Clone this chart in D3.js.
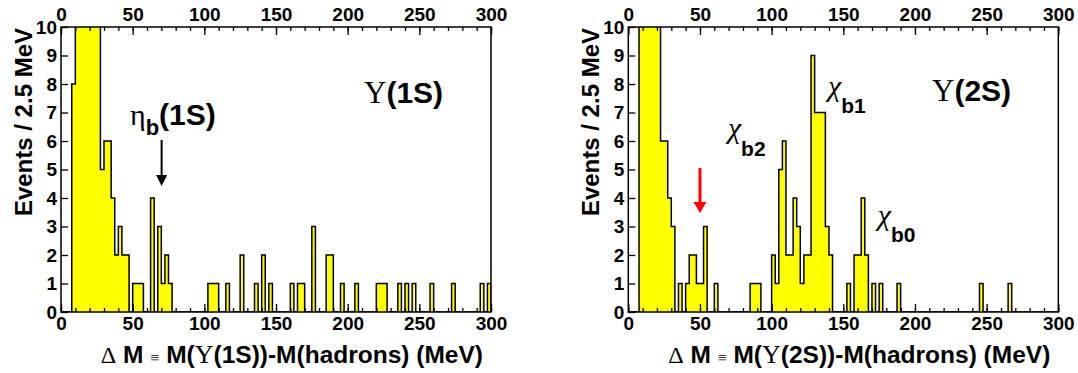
<!DOCTYPE html>
<html>
<head>
<meta charset="utf-8">
<script src="https://cdn.jsdelivr.net/npm/d3@7"></script>
<style>
  html, body { margin: 0; padding: 0; background: #fff; }
  svg { display: block; }
  .sans { font-family: "Liberation Sans", Arial, Helvetica, sans-serif; font-weight: bold; }
  .serif { font-family: "Liberation Serif", "Times New Roman", serif; font-weight: normal; }
</style>
</head>
<body>
<div id="chart"></div>
<script>
// Data: events per 2.5 MeV bin, 0..300 MeV (120 bins)
// bins above 10 are off the axis (clipped), their heights are guesses
const binWidth = 2.5;
const xTicksMajor = [0, 50, 100, 150, 200, 250, 300];
const yTicks = [0, 1, 2, 3, 4, 5, 6, 7, 8, 9, 10];

const counts1S = [
  0, 0, 0, 8, 14, 18, 20, 19, 16, 13, 11, 5, 6, 6, 4, 2, 3, 2, 2, 0,
  1, 1, 1, 0, 0, 4, 0, 3, 1, 2, 1, 0, 0, 0, 0, 0, 0, 0, 0, 0,
  0, 1, 1, 1, 0, 0, 1, 0, 0, 0, 2, 0, 0, 0, 1, 0, 2, 0, 1, 0,
  0, 0, 0, 0, 1, 0, 1, 1, 0, 0, 3, 0, 0, 0, 2, 2, 0, 0, 1, 0,
  0, 0, 1, 0, 0, 0, 0, 0, 1, 1, 1, 0, 0, 0, 1, 0, 1, 0, 1, 0,
  0, 0, 0, 1, 0, 0, 0, 0, 0, 1, 0, 0, 0, 0, 0, 0, 0, 1, 0, 1
];

const counts2S = [
  0, 0, 0, 12, 16, 18, 17, 14, 11, 6, 6, 4, 3, 0, 1, 0, 1, 2, 2, 1,
  1, 3, 0, 0, 1, 0, 0, 0, 0, 0, 0, 0, 0, 0, 1, 1, 1, 0, 0, 0,
  2, 1, 5, 6, 2, 2, 4, 3, 1, 2, 2, 9, 7, 7, 7, 3, 2, 0, 0, 0,
  0, 1, 0, 2, 2, 4, 2, 0, 1, 0, 1, 0, 0, 0, 0, 1, 0, 0, 0, 0,
  0, 0, 0, 0, 0, 0, 0, 0, 0, 0, 0, 0, 0, 0, 0, 0, 0, 0, 1, 0,
  0, 0, 0, 0, 0, 0, 1, 0, 0, 0, 0, 0, 0, 0, 0, 0, 0, 0, 0, 0
];

// Dimensions
const dimensions = { width: 1078, height: 373, top: 27, bottom: 312, plotWidth: 430 };

const svg = d3.select("#chart")
  .append("svg")
  .attr("width", dimensions.width)
  .attr("height", dimensions.height);

function drawPanel(cfg) {
  const xScale = d3.scaleLinear().domain([0, 300]).range([cfg.left, cfg.left + dimensions.plotWidth]);
  const yScale = d3.scaleLinear().domain([0, 10]).range([dimensions.bottom, dimensions.top]);

  const g = svg.append("g");

  const clipId = "clip-" + cfg.id;
  g.append("clipPath").attr("id", clipId)
    .append("rect")
    .attr("x", xScale(0)).attr("y", yScale(10))
    .attr("width", xScale(300) - xScale(0))
    .attr("height", yScale(0) - yScale(10));

  // histogram points: left edge of each bin, plus closing point
  const pts = cfg.counts.map((c, i) => [i * binWidth, c]);
  pts.push([cfg.counts.length * binWidth, 0]);

  const area = d3.area()
    .x((d) => xScale(d[0]))
    .y0(yScale(0))
    .y1((d) => yScale(d[1]))
    .curve(d3.curveStepAfter);
  const line = d3.line()
    .x((d) => xScale(d[0]))
    .y((d) => yScale(d[1]))
    .curve(d3.curveStepAfter);

  const hist = g.append("g").attr("clip-path", `url(#${clipId})`);
  hist.append("path").datum(pts).attr("d", area).attr("fill", "#ffff00");
  hist.append("path").datum(pts).attr("d", line)
    .attr("fill", "none").attr("stroke", "#000").attr("stroke-width", 1.5);

  // frame
  g.append("rect")
    .attr("x", xScale(0)).attr("y", yScale(10))
    .attr("width", xScale(300) - xScale(0))
    .attr("height", yScale(0) - yScale(10))
    .attr("fill", "none").attr("stroke", "#000").attr("stroke-width", 1.5);

  const minor = d3.range(0, 301, 10);
  const styleAxis = (sel) => {
    sel.select(".domain").remove();
    sel.selectAll("line").attr("stroke", "#000").attr("stroke-width", 1.3);
    sel.selectAll("text").attr("class", "sans").attr("font-size", 19).attr("fill", "#000");
  };

  // bottom axis
  g.append("g").attr("transform", `translate(0, ${yScale(0)})`)
    .call(d3.axisBottom(xScale).tickValues(minor).tickSizeInner(-4).tickSizeOuter(0).tickFormat(""))
    .call(styleAxis);
  g.append("g").attr("transform", `translate(0, ${yScale(0)})`)
    .call(d3.axisBottom(xScale).tickValues(xTicksMajor).tickSizeInner(-8).tickSizeOuter(0).tickPadding(5).tickFormat(d3.format("d")))
    .call(styleAxis);

  // top axis
  g.append("g").attr("transform", `translate(0, ${yScale(10)})`)
    .call(d3.axisTop(xScale).tickValues(minor).tickSizeInner(-4).tickSizeOuter(0).tickFormat(""))
    .call(styleAxis);
  g.append("g").attr("transform", `translate(0, ${yScale(10)})`)
    .call(d3.axisTop(xScale).tickValues(xTicksMajor).tickSizeInner(-8).tickSizeOuter(0).tickPadding(6).tickFormat(d3.format("d")))
    .call(styleAxis);

  // left axis
  g.append("g").attr("transform", `translate(${xScale(0)}, 0)`)
    .call(d3.axisLeft(yScale).tickValues(yTicks).tickSizeInner(-7).tickSizeOuter(0).tickPadding(4).tickFormat(d3.format("d")))
    .call(styleAxis);

  // y title
  g.append("text")
    .attr("class", "sans")
    .attr("font-size", 24)
    .attr("text-anchor", "end")
    .attr("transform", `translate(${xScale(0) - 29}, ${yScale(10) + 1}) rotate(-90)`)
    .text("Events / 2.5 MeV");

  // x title
  const xt = g.append("text")
    .attr("class", "sans")
    .attr("font-size", 24.5)
    .attr("text-anchor", "end")
    .attr("x", xScale(300) - 8)
    .attr("y", 363);
  xt.append("tspan").attr("class", "serif").attr("font-size", 24).text("\u0394");
  xt.append("tspan").text(" M ");
  xt.append("tspan").attr("class", "serif").attr("font-size", 16).text("\u2261");
  xt.append("tspan").text(" M(");
  xt.append("tspan").attr("class", "serif").attr("font-size", 26).text("\u03a5");
  xt.append("tspan").text(cfg.xTitleTail);

  // state label
  const st = g.append("text").attr("class", "sans").attr("font-size", 30)
    .attr("x", xScale(cfg.stateAt[0])).attr("y", yScale(cfg.stateAt[1]));
  st.append("tspan").attr("class", "serif").attr("font-size", 31).text("\u03a5");
  st.append("tspan").text(cfg.stateText);

  // peak labels
  cfg.peaks.forEach((p) => {
    const t = g.append("text").attr("class", "serif").attr("font-size", 30)
      .attr("font-style", p.italic ? "italic" : "normal")
      .attr("x", xScale(p.at[0])).attr("y", yScale(p.at[1]));
    t.append("tspan").text(p.greek);
    t.append("tspan").attr("class", "sans").attr("font-style", "normal")
      .attr("font-size", p.subSize).attr("dy", p.subDy).text(p.sub);
    if (p.tail) t.append("tspan").attr("class", "sans").attr("font-style", "normal")
      .attr("dy", -p.subDy).attr("font-size", 30).text(p.tail);
  });

  // arrows
  cfg.arrows.forEach((a) => {
    const x = xScale(a.x), y0 = yScale(a.from), y1 = yScale(a.to);
    g.append("line").attr("x1", x).attr("x2", x).attr("y1", y0).attr("y2", y1 - 8)
      .attr("stroke", a.color).attr("stroke-width", a.width);
    g.append("path")
      .attr("d", `M${x - a.head / 2},${y1 - 11} L${x + a.head / 2},${y1 - 11} L${x},${y1} Z`)
      .attr("fill", a.color);
  });
}

drawPanel({
  id: "1s",
  left: 61,
  counts: counts1S,
  xTitleTail: "(1S))-M(hadrons) (MeV)",
  stateAt: [211.4, 7.33],
  stateText: "(1S)",
  peaks: [
    { greek: "\u03b7", sub: "b", subSize: 22, subDy: 10, tail: "(1S)", at: [48.1, 6.56] }
  ],
  arrows: [{ x: 70.2, from: 6.04, to: 4.42, color: "#000", width: 2, head: 11 }]
});

drawPanel({
  id: "2s",
  left: 628.3,
  counts: counts2S,
  xTitleTail: "(2S))-M(hadrons) (MeV)",
  stateAt: [211.9, 7.4],
  stateText: "(2S)",
  peaks: [
    { greek: "\u03c7", italic: true, sub: "b2", subSize: 21, subDy: 18, at: [69.5, 6.1] },
    { greek: "\u03c7", italic: true, sub: "b1", subSize: 21, subDy: 17, at: [139.3, 7.58] },
    { greek: "\u03c7", italic: true, sub: "b0", subSize: 21, subDy: 17, at: [174.1, 3.04] }
  ],
  arrows: [{ x: 50, from: 5.05, to: 3.47, color: "#ff0000", width: 3, head: 13 }]
});
</script>
</body>
</html>
